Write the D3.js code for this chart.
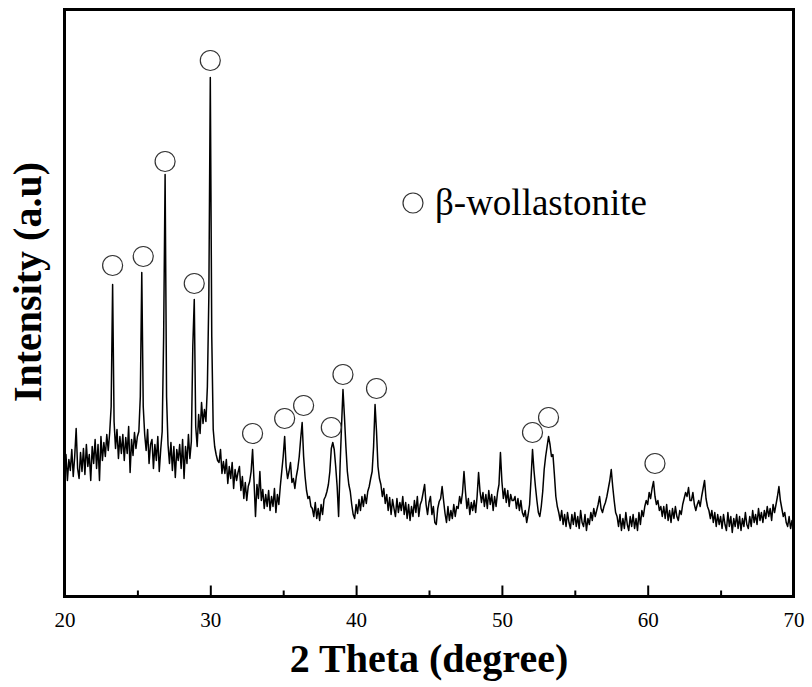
<!DOCTYPE html>
<html>
<head>
<meta charset="utf-8">
<script src="https://cdn.jsdelivr.net/npm/d3@7"></script>
<style>
  body { margin: 0; background: #fff; }
  svg text { font-family: "Liberation Serif", "Times New Roman", Times, "DejaVu Serif", serif !important; }
</style>
</head>
<body>
<div id="chart"></div>
<script>
// XRD pattern, 2 theta from 20 to 70, step 0.1 (one row per degree)
var thetaStart = 20, thetaStep = 0.1;
var intensity = [
  125,142,116,137,126,147,120,140,168,128,   // 20
  118,144,125,148,122,152,130,142,116,150,   // 21
  133,157,128,152,116,160,136,154,140,162,   // 22
  146,164,190,312,175,148,167,138,160,143,   // 23
  162,136,159,143,170,124,157,141,164,148,   // 24
  160,165,200,324,190,162,146,167,133,152,   // 25
  157,128,152,136,160,125,147,165,260,422,   // 26
  200,152,133,154,126,150,119,147,136,152,   // 27
  128,157,118,150,133,162,138,155,250,297,   // 28
  170,150,182,163,194,173,187,175,210,300,   // 29
  519,260,167,150,142,136,134,147,123,135,   // 30
  123,137,113,130,118,134,108,127,116,124,   // 31
  130,106,120, 98,114, 96,110,115,125,147,   // 32
  115, 80,112, 98,125, 96,107, 88,102, 90,   // 33
  106, 86,100, 90,108, 84,102, 92,110,125,   // 34
  140,160,130,118,125,134,114,118,108,120,   // 35
  128,140,158,174,140,120,106, 98,100, 90,   // 36
   88, 80, 94, 78, 88, 76, 92, 82, 97,100,   // 37
  105,112,125,148,154,147,130,110, 80,130,   // 38
  170,207,180,150,125,112,105, 92, 82, 78,   // 39
   92, 83, 97, 86,100, 90,102, 93,105,110,   // 40
  118,125,150,192,165,130,118,112,100,108,   // 41
   93,102, 86, 99, 82, 97, 88, 80, 98, 84,   // 42
   94, 86,100, 82, 94, 78, 92, 76, 90, 80,   // 43
   96, 84,100, 80, 92, 96,104,112, 92, 82,   // 44
   94,100, 82, 90, 74, 72, 88, 95, 98,110,   // 45
   96, 83, 74, 90, 76, 86, 78, 92, 80, 90,   // 46
   88,100, 93,104,125,105, 88, 98, 82, 94,   // 47
   86, 96, 84,100,124,105, 94,104, 90,102,   // 48
   88,106, 92,102, 86,100, 90,104,112,144,   // 49
  115, 98,108, 94,106, 90,102, 96, 96,100,   // 50
   88, 98, 86, 96, 84, 80, 86, 74, 82, 92,   // 51
  118,147,126,110, 96, 84, 80, 90,105,127,   // 52
  140,150,160,152,140,142,122,100, 90, 84,   // 53
   76, 86, 72, 82, 70, 84, 74, 68, 82, 72,   // 54
   84, 70, 80, 68, 86, 74, 70, 82, 66, 78,   // 55
   72, 84, 76, 88, 80, 86, 92,100, 88, 84,   // 56
   90, 94,100,108,116,127,110, 96, 84, 80,   // 57
   70, 82, 66, 78, 68, 84, 72, 66, 80, 70,   // 58
   82, 68, 78, 66, 84, 72, 86, 80, 90, 96,   // 59
   92,104, 98,108,115,100, 92, 96, 86, 90,   // 60
   80, 90, 78, 92, 76, 86, 74, 88, 78, 90,   // 61
   80, 76, 86, 82, 92, 98,104,100,109, 96,   // 62
   96,104, 92, 86, 92, 96, 90,100,108,116,   // 63
   98, 90, 86, 78, 86, 74, 84, 70, 82, 72,   // 64
   80, 68, 82, 72, 66, 84, 70, 80, 64, 78,   // 65
   70, 82, 68, 80, 66, 78, 70, 84, 72, 68,   // 66
   80, 70, 86, 74, 82, 72, 88, 76, 84, 74,   // 67
   86, 78, 90, 80, 88, 76, 92, 84, 92,100,   // 68
  110, 96, 88, 80, 84, 74, 70, 80, 68, 76,   // 69
   72                                        // 70
];

// beta-wollastonite peak markers (circle position)
var markerTheta = [23.3, 25.4, 26.9, 28.9, 30.0, 32.9, 35.1, 36.4, 38.3, 39.1, 41.4, 52.1, 53.2, 60.5];
var markerLevel = [331, 340, 435, 313, 536, 163, 178, 191, 169, 222, 208, 164, 179, 133];

var majorTicks = [20, 30, 40, 50, 60, 70];
var minorTicks = [25, 35, 45, 55, 65];

var serif = "'Liberation Serif', 'Times New Roman', Times, 'DejaVu Serif', serif";

var margin = {top: 9.5, right: 18.5, bottom: 90.5, left: 64.5},
    width = 812 - margin.left - margin.right,
    height = 687 - margin.top - margin.bottom;

var svg = d3.select("#chart")
  .append("svg")
    .attr("width", 812)
    .attr("height", 687)
  .append("g")
    .attr("transform", "translate(" + margin.left + "," + margin.top + ")");

var x = d3.scaleLinear()
  .domain([20, 70])
  .range([0, width]);

var y = d3.scaleLinear()
  .domain([0, height])
  .range([height, 0]);

var data = intensity.map(function(v, i) {
  return {x: thetaStart + i * thetaStep, y: v};
});

// pattern
svg.append("path")
  .datum(data)
  .attr("fill", "none")
  .attr("stroke", "#000")
  .attr("stroke-width", 1.5)
  .attr("stroke-linejoin", "round")
  .attr("d", d3.line()
    .x(function(d) { return x(d.x) })
    .y(function(d) { return y(d.y) })
  );

// peak markers
svg.selectAll(".marker")
  .data(markerTheta)
  .enter().append("circle")
    .attr("class", "marker")
    .attr("cx", function(d) { return x(d) })
    .attr("cy", function(d, i) { return y(markerLevel[i]) })
    .attr("r", 10)
    .attr("fill", "none")
    .attr("stroke", "#333")
    .attr("stroke-width", 1.2);

// x axis, ticks pointing inwards
var xAxis = svg.append("g")
  .attr("transform", "translate(0," + height + ")")
  .call(d3.axisBottom(x).tickValues(majorTicks).tickSizeInner(-11).tickSizeOuter(0).tickPadding(16));
xAxis.attr("font-family", serif);
xAxis.selectAll("text")
  .attr("font-family", serif)
  .style("font-size", "21px")
  .attr("fill", "#000");
xAxis.selectAll("line").attr("stroke-width", 2);
xAxis.select(".domain").remove();

var xMinor = svg.append("g")
  .attr("transform", "translate(0," + height + ")")
  .call(d3.axisBottom(x).tickValues(minorTicks).tickSizeInner(-6).tickSizeOuter(0).tickFormat(""));
xMinor.selectAll("line").attr("stroke-width", 2);
xMinor.select(".domain").remove();

// frame
svg.append("rect")
  .attr("width", width)
  .attr("height", height)
  .attr("fill", "none")
  .attr("stroke", "#000")
  .attr("stroke-width", 3);

// axis titles
svg.append("text")
  .attr("x", 429 - margin.left)
  .attr("y", height + 75)
  .attr("text-anchor", "middle")
  .attr("font-family", serif)
  .style("font-size", "40px")
  .style("font-weight", "bold")
  .text("2 Theta (degree)");

svg.append("text")
  .attr("transform", "translate(" + (41 - margin.left) + "," + (282 - margin.top) + ") rotate(-90)")
  .attr("text-anchor", "middle")
  .attr("font-family", serif)
  .style("font-size", "40px")
  .style("font-weight", "bold")
  .text("Intensity (a.u)");

// legend
var legend = svg.append("g")
  .attr("transform", "translate(" + (413 - margin.left) + "," + (203 - margin.top) + ")");
legend.append("circle")
  .attr("r", 10)
  .attr("fill", "none")
  .attr("stroke", "#333")
  .attr("stroke-width", 1.2);
legend.append("text")
  .attr("x", 22)
  .attr("y", 12)
  .attr("font-family", serif)
  .style("font-size", "37px")
  .text("β-wollastonite");
</script>
</body>
</html>
